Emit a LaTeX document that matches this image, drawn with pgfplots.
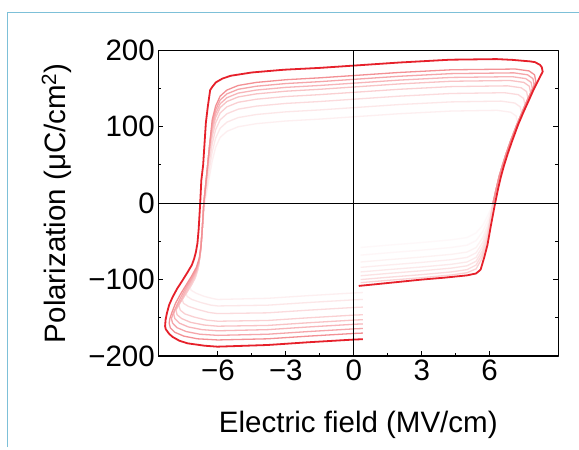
\documentclass[border=0pt]{standalone}
\usepackage{fontspec}
\setmainfont{Liberation Sans}
\usepackage{pgfplots}
\pgfplotsset{compat=1.18}
\definecolor{loopred}{RGB}{230,32,42}
\definecolor{framebl}{RGB}{125,192,216}
\newcommand{\labfont}{\fontsize{29.5}{34}\selectfont}

\begin{document}
\begin{tikzpicture}
\fill[white] (0,0) rectangle (579pt,-450pt);
\useasboundingbox (0,0) rectangle (579pt,-450pt);
\draw[framebl, line width=1.5pt] (7.3pt,-447pt) -- (7.3pt,-12.3pt) -- (579pt,-12.3pt);
\begin{axis}[
    at={(158.3pt,-356pt)}, anchor=south west,
    scale only axis, width=400pt, height=305.7pt,
    xmin=-8.63, xmax=9.03, ymin=-200, ymax=200,
    xtick={-6,-3,0,3,6}, xticklabels={−6,−3,0,3,6},
    ytick={-200,-100,0,100,200}, yticklabels={−200,−100,0,100,200},
    minor x tick num=1, minor y tick num=1,
    xtick pos=left, ytick pos=both,
    tick align=inside,
    major tick length=5pt, minor tick length=3pt,
    every tick/.style={black, line width=0.9pt},
    axis line style={line width=1.2pt, black},
    ticklabel style={font=\labfont},
    label style={font=\labfont},
    xlabel={Electric field (MV/cm)},
    ylabel={Polarization (μC/cm\textsuperscript{2})},
    xlabel style={at={(axis description cs:0.5,-0.249)}, anchor=base},
    ylabel style={at={(axis description cs:-0.233,0.5)}, anchor=base},
    line join=round,
]
% inner loops, faint to strong: first part (start -> P=0) is barely visible
\addplot[loopred!3, line width=1.3pt] coordinates {
(0.3,-58)(1.5,-55)(3,-51.5)(4.3,-48)(5.0,-45)(5.4,-39)(5.72,-28)(5.95,-14)(6.08,-5)(6.15,0)};
\addplot[loopred!7, line width=1.3pt] coordinates {
(6.15,0)(6.3,20)(6.42,35)(6.55,48)(6.72,64)(6.92,81)(7.23,105)
(7.17,114)(6.93,119)(6.33,121.5)(4.3,120.5)(2,117)(0,113)(-1.5,110)(-3,107.5)(-4.3,104)(-5.1,100)(-5.6,94)(-5.9,86)(-6.1,73)(-6.25,55)(-6.4,30)(-6.55,5)(-6.68,-30)(-6.78,-68)
(-6.9,-89)(-7.05,-99)(-7.18,-104)(-7.25,-108)(-7.18,-114)(-6.95,-118)(-6.6,-122)(-6.2,-125)(-6,-126)(-3.8,-124.5)(-2,-121)(0,-117.5)(0.4,-117)
};
\addplot[loopred!4, line width=1.3pt] coordinates {
(0.3,-68)(1.5,-65)(3,-61.5)(4.3,-58)(5.0,-55)(5.4,-49)(5.7,-37)(5.92,-22)(6.06,-8)(6.15,0)};
\addplot[loopred!11, line width=1.3pt] coordinates {
(6.15,0)(6.3,20)(6.42,35)(6.55,48)(6.72,64)(6.92,81)(7.18,101)(7.41,117)
(7.35,126)(7.11,131)(6.51,133.5)(4.3,132.5)(2,129)(0,125)(-1.5,122)(-3,119.5)(-4.3,116)(-5.1,112)(-5.6,106)(-5.9,98)(-6.1,85)(-6.25,67)(-6.4,40)(-6.5,18)(-6.62,0)(-6.68,-30)(-6.78,-66)
(-6.88,-87)(-7.02,-99)(-7.2,-107)(-7.35,-112)(-7.42,-116)(-7.36,-122)(-7.15,-126)(-6.75,-130)(-6.3,-133.5)(-6,-134.5)(-3.8,-133.5)(-2,-130)(0,-126.5)(0.4,-126)
};
\addplot[loopred!6, line width=1.3pt] coordinates {
(0.3,-77)(1.5,-74)(3,-70.5)(4.3,-67)(5.0,-64)(5.4,-58)(5.7,-45)(5.9,-30)(6.04,-14)(6.15,0)};
\addplot[loopred!16, line width=1.3pt] coordinates {
(6.15,0)(6.3,20)(6.42,35)(6.55,48)(6.72,64)(6.92,81)(7.18,101)(7.42,118)(7.56,128)
(7.5,137)(7.26,142)(6.66,144.5)(4.3,143.5)(2,140)(0,136)(-1.5,133)(-3,130.5)(-4.3,127)(-5.1,123)(-5.6,117)(-5.9,109)(-6.1,96)(-6.25,78)(-6.4,50)(-6.5,25)(-6.62,0)(-6.68,-30)(-6.77,-64)
(-6.87,-85)(-7.0,-98)(-7.18,-108)(-7.38,-116)(-7.52,-121)(-7.58,-125)(-7.52,-131)(-7.3,-135)(-6.9,-139)(-6.4,-143)(-6,-144.5)(-3.8,-143.5)(-2,-140)(0,-136.5)(0.4,-136)
};
\addplot[loopred!8, line width=1.3pt] coordinates {
(0.3,-84)(1.5,-81)(3,-77.5)(4.3,-74)(5.0,-71)(5.4,-65)(5.7,-51)(5.9,-34)(6.02,-20)(6.15,0)};
\addplot[loopred!21, line width=1.3pt] coordinates {
(6.15,0)(6.3,20)(6.42,35)(6.55,48)(6.72,64)(6.92,81)(7.18,101)(7.42,118)(7.69,137)
(7.63,146)(7.39,151)(6.79,153.5)(4.3,152.5)(2,149)(0,145)(-1.5,142)(-3,139.5)(-4.3,136)(-5.1,132)(-5.6,126)(-5.9,118)(-6.1,105)(-6.25,87)(-6.4,60)(-6.5,32)(-6.62,0)(-6.68,-30)(-6.76,-62)
(-6.85,-82)(-6.98,-95)(-7.15,-106)(-7.35,-116)(-7.55,-125)(-7.68,-130)(-7.72,-134)(-7.66,-140)(-7.45,-145)(-7.05,-149)(-6.5,-153)(-6,-154.5)(-3.8,-153.5)(-2,-150)(0,-146.5)(0.4,-146)
};
\addplot[loopred!10, line width=1.3pt] coordinates {
(0.3,-90)(1.5,-87)(3,-83.5)(4.3,-80)(5.0,-77)(5.4,-71)(5.7,-56)(5.9,-38)(6.0,-26)(6.15,0)};
\addplot[loopred!27, line width=1.3pt] coordinates {
(6.15,0)(6.3,20)(6.42,35)(6.55,48)(6.72,64)(6.92,81)(7.18,101)(7.42,118)(7.65,134)(7.81,144)
(7.75,153)(7.51,158)(6.91,160.5)(4.3,159.5)(2,156)(0,152)(-1.5,149)(-3,146.5)(-4.3,143)(-5.1,139)(-5.6,133)(-5.9,125)(-6.1,112)(-6.25,94)(-6.4,65)(-6.5,35)(-6.62,0)(-6.68,-30)(-6.75,-60)
(-6.84,-79)(-6.97,-92)(-7.15,-103)(-7.35,-114)(-7.55,-125)(-7.72,-133)(-7.85,-140)(-7.8,-146)(-7.6,-151)(-7.2,-156)(-6.6,-159.5)(-6,-161)(-3.8,-160)(-2,-156.5)(0,-153)(0.4,-152.5)
};
\addplot[loopred!13, line width=1.3pt] coordinates {
(0.3,-95)(1.5,-92)(3,-88.5)(4.3,-85)(5.0,-82)(5.4,-76)(5.68,-62)(5.88,-44)(5.98,-30)(6.15,0)};
\addplot[loopred!33, line width=1.3pt] coordinates {
(6.15,0)(6.3,20)(6.42,35)(6.55,48)(6.72,64)(6.92,81)(7.18,101)(7.42,118)(7.65,134)(7.89,149)
(7.83,158)(7.59,163)(6.99,165.5)(4.3,164.5)(2,161)(0,157)(-1.5,154)(-3,151.5)(-4.3,148)(-5.1,144)(-5.6,138)(-5.9,130)(-6.1,117)(-6.25,99)(-6.35,80)(-6.45,50)(-6.55,20)(-6.62,0)(-6.68,-30)(-6.75,-58)
(-6.83,-76)(-6.96,-89)(-7.15,-100)(-7.38,-112)(-7.58,-124)(-7.76,-134)(-7.9,-140)(-7.95,-145)(-7.9,-151)(-7.7,-157)(-7.3,-162)(-6.7,-165.5)(-6,-167)(-3.8,-165.5)(-2,-162)(0,-158.5)(0.4,-158)
};
\addplot[loopred!16, line width=1.3pt] coordinates {
(0.3,-100)(1.5,-97)(3,-93.5)(4.3,-90)(5.0,-87)(5.4,-81)(5.65,-68)(5.85,-50)(5.98,-30)(6.15,0)};
\addplot[loopred!40, line width=1.3pt] coordinates {
(6.15,0)(6.3,20)(6.42,35)(6.55,48)(6.72,64)(6.92,81)(7.18,101)(7.42,118)(7.65,134)(7.87,148)(7.97,154)
(7.91,163)(7.67,168)(7.07,170.5)(4.3,169.5)(2,166)(0,162)(-1.5,159)(-3,156.5)(-4.3,153)(-5.1,149)(-5.6,143)(-5.9,135)(-6.1,122)(-6.25,104)(-6.35,80)(-6.45,50)(-6.55,20)(-6.62,0)(-6.68,-30)(-6.74,-56)
(-6.82,-74)(-6.95,-87)(-7.15,-98)(-7.4,-110)(-7.62,-122)(-7.82,-134)(-7.97,-144)(-8.05,-151)(-8.0,-157)(-7.8,-163)(-7.4,-168)(-6.8,-171.5)(-6,-173)(-3.8,-171.5)(-2,-168)(0,-164.5)(0.4,-164)
};
\addplot[loopred!20, line width=1.3pt] coordinates {
(0.3,-104)(1.5,-101)(3,-97.5)(4.3,-94)(5.0,-91)(5.4,-86)(5.65,-73)(5.85,-54)(5.98,-30)(6.15,0)};
\addplot[loopred!50, line width=1.3pt] coordinates {
(6.15,0)(6.3,20)(6.42,35)(6.55,48)(6.72,64)(6.92,81)(7.18,101)(7.42,118)(7.65,134)(7.87,148)(8.04,159)
(7.98,168)(7.74,173)(7.14,175.5)(4.3,174.5)(2,171)(0,167)(-1.5,164)(-3,161.5)(-4.3,158)(-5.1,154)(-5.6,148)(-5.9,140)(-6.1,127)(-6.25,109)(-6.35,80)(-6.45,50)(-6.55,20)(-6.62,0)(-6.68,-30)(-6.74,-55)
(-6.82,-72)(-6.95,-84)(-7.15,-95)(-7.4,-107)(-7.65,-119)(-7.87,-131)(-8.03,-143)(-8.12,-151)(-8.15,-157)(-8.1,-163)(-7.9,-169)(-7.5,-174)(-6.9,-177.5)(-6,-179)(-3.8,-177.5)(-2,-174)(0,-170.5)(0.4,-170)
};
% outermost loop
\addplot[loopred, line width=1.8pt] coordinates {
(0.22,-108.3)(1,-106)(2,-103)(3,-100)(4,-97.5)(5,-94.5)(5.4,-92)(5.6,-87)(5.75,-72)(5.9,-55)(6.05,-30)(6.24,0)(6.38,20)(6.5,35)(6.63,49)(6.8,65)(7.0,82)(7.26,103)(7.49,119)(7.72,134)(7.93,148)(8.15,161)(8.34,172)
(8.3,178)(8.22,181)(8.0,184.5)(7.78,185.5)(7,187.5)(6.3,188.5)(4.26,187.7)(2,184)(0,180)(-1.5,177)(-3.08,174.6)(-4.5,171)(-5.43,166.7)(-5.8,163)(-6.09,158)(-6.25,152)(-6.34,148)(-6.45,125)(-6.53,105)(-6.65,50)(-6.73,30)(-6.78,0)(-6.85,-35)(-6.9,-52)
(-6.97,-64)(-7.05,-73)(-7.15,-81)(-7.35,-91)(-7.56,-101)(-7.8,-112)(-8.0,-123)(-8.15,-133)(-8.25,-144)(-8.31,-153)(-8.33,-161)(-8.3,-165)(-8.15,-171)(-8.0,-175)(-7.7,-180)(-7.34,-183.4)(-6.6,-186.5)(-6.02,-187.8)(-3.8,-185.6)(-2,-182)(0,-178.5)(0.4,-178)
};
% zero lines
\addplot[black, line width=0.9pt] coordinates {(-8.63,0) (9.03,0)};
\addplot[black, line width=0.9pt] coordinates {(0,-200) (0,200)};
\end{axis}
\end{tikzpicture}
\end{document}
